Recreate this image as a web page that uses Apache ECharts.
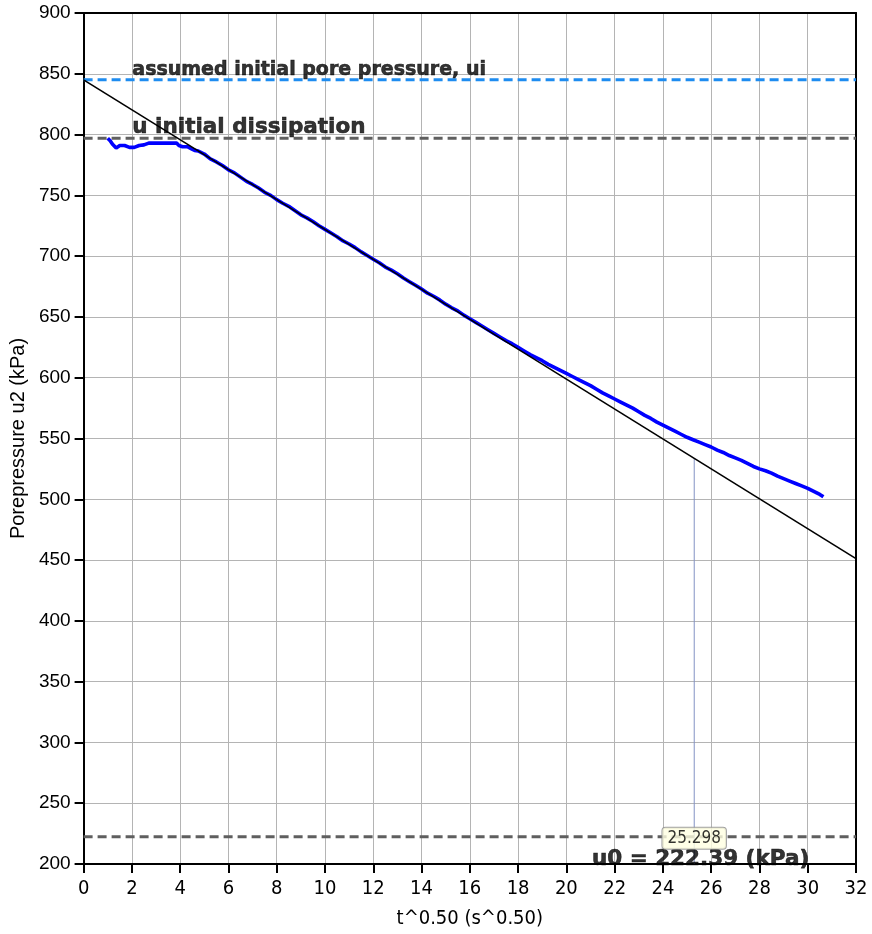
<!DOCTYPE html>
<html>
<head>
<meta charset="utf-8">
<script src="https://cdn.jsdelivr.net/npm/echarts@6/dist/echarts.min.js"></script>
<style>html,body{margin:0;padding:0;background:#fff;}#c{width:872px;height:934px;}</style>
</head>
<body>
<div id="c"></div>
<script>
// ---- data ----
var xAxisName = 't^0.50 (s^0.50)';
var yAxisName = 'Porepressure u2 (kPa)';
var xMin = 0, xMax = 32, xStep = 2;
var yMin = 200, yMax = 900, yStep = 50;

// measured porepressure vs sqrt(t)
var curveX = [1.0,1.1,1.2,1.35,1.5,1.7,1.9,2.1,2.3,2.5,2.7,3.0,3.3,3.6,3.85,3.95,4.1,4.3,4.45,4.6,
  4.75,5.0,5.25,5.5,5.75,6.0,6.25,6.5,6.75,7.0,7.25,7.5,7.75,8.0,8.25,8.5,8.75,9.0,9.25,9.5,9.75,
  10.0,10.25,10.5,10.75,11.0,11.25,11.5,11.75,12.0,12.25,12.5,12.75,13.0,13.25,13.5,13.75,14.0,14.25,14.5,14.75,
  15.0,15.25,15.5,15.75,16.0,16.25,16.5,16.75,17.0,17.25,17.5,17.75,18.0,18.25,18.5,18.75,19.0,19.25,19.5,19.75,
  20.0,20.25,20.5,20.75,21.0,21.25,21.5,21.75,22.0,22.25,22.5,22.75,23.0,23.25,23.5,23.75,24.0,24.25,24.5,24.75,
  25.0,25.25,25.5,25.75,26.0,26.25,26.5,26.75,27.0,27.25,27.5,27.75,28.0,28.25,28.5,28.75,29.0,29.25,29.5,29.75,
  30.0,30.25,30.5,30.65];
var curveY = [797,795,792,789,791,791,789.5,789.5,791,791.5,793,793,793,793,793,791,790,790,788.5,787,
  786.5,784,780,777.5,774.5,771,768.5,765,761.5,759,756,752.5,750,746.5,743.5,741,737.5,734,731.5,728.5,725,
  722,719,716,712.5,710,707,703.5,700.5,697.5,694.5,691,688.5,685.5,682,679,676,673,669.5,667,664,
  660.5,657.5,655,651.5,648.5,645.5,642.5,639.5,636.5,633.5,630.5,628,625,622,619,616.5,614,611,608.5,606,
  603.5,601,598.5,596,593.5,590.5,587.5,585,582.5,580,577.5,575,572,569,566.5,563.5,561,558.5,556,553.5,
  551,549,547,545,543,540.5,538.5,536,534,532,529.5,527,525,523.5,521.5,519,517,515,513,511,
  509,506.5,504,502];

// fitted straight line
var fitX = [0, 32];
var fitY = [845, 451.2];

// reference levels
var uiLevel = 845;            // assumed initial pore pressure
var uDissLevel = 797;         // u initial dissipation
var u0Level = 222.39;         // u0
var tCross = 25.298;          // intersection time
var tCrossTop = 533.8;        // fitted line value at tCross

var uiText = 'assumed initial pore pressure, ui';
var uDissText = 'u initial dissipation';
var u0Text = 'u0 = 222.39 (kPa)';
var tCrossText = '25.298';

// ---- build ----
function pairs(xs, ys){ var o=[]; for (var i=0;i<xs.length;i++) o.push([xs[i], ys[i]]); return o; }
var bold = "'DejaVu Sans', Verdana, sans-serif";
var cond = "'DejaVu Sans Condensed', 'DejaVu Sans', sans-serif";
var arial = "'Liberation Sans', Arial, sans-serif";
function boldLabel(text, size, vAlign){
  return {show: true, formatter: text, position: [0, 0], align: 'left', verticalAlign: vAlign,
    fontFamily: bold, fontWeight: 'bold', fontSize: size, color: '#000',
    textBorderColor: '#000', textBorderWidth: 0.6};
}

var chart = echarts.init(document.getElementById('c'), null, {renderer:'canvas'});
chart.setOption({
  animation: false,
  backgroundColor: '#fff',
  grid: {left: 81, right: 16, top: 13, bottom: 68, containLabel: false},
  xAxis: [{
    type: 'value', min: xMin, max: xMax, interval: xStep,
    name: xAxisName, nameLocation: 'middle', nameGap: 45,
    nameTextStyle: {fontFamily: cond, fontSize: 20, color: '#000'},
    axisLine: {show: true, onZero: false, lineStyle: {color: '#000', width: 2}},
    axisTick: {show: true, inside: false, length: 9, lineStyle: {color: '#000', width: 2}},
    axisLabel: {fontFamily: cond, fontSize: 20, color: '#000', margin: 15},
    splitLine: {show: true, lineStyle: {color: '#b4b4b4', width: 1}}
  }, {
    type: 'value', min: xMin, max: xMax, position: 'top',
    axisLine: {show: true, onZero: false, lineStyle: {color: '#000', width: 2}},
    axisTick: {show: false}, axisLabel: {show: false}, splitLine: {show: false}
  }],
  yAxis: [{
    type: 'value', min: yMin, max: yMax, interval: yStep,
    name: yAxisName, nameLocation: 'middle', nameGap: 52,
    nameTextStyle: {fontFamily: arial, fontSize: 20, color: '#000'},
    axisLine: {show: true, onZero: false, lineStyle: {color: '#000', width: 2}},
    axisTick: {show: true, inside: false, length: 9, lineStyle: {color: '#000', width: 2}},
    axisLabel: {fontFamily: arial, fontSize: 19, color: '#000', margin: 13},
    splitLine: {show: true, lineStyle: {color: '#b4b4b4', width: 1}}
  }, {
    type: 'value', min: yMin, max: yMax, position: 'right',
    axisLine: {show: true, onZero: false, lineStyle: {color: '#000', width: 2}},
    axisTick: {show: false}, axisLabel: {show: false}, splitLine: {show: false}
  }],
  series: [
    {
      type: 'line', name: 'ui', silent: true, symbol: 'none',
      data: [[xMin, uiLevel], [xMax, uiLevel]],
      lineStyle: {color: '#1e8cf0', width: 3, type: [9, 5]}, z: 3
    },
    {
      type: 'line', name: 'udiss', silent: true, symbol: 'none',
      data: [[xMin, uDissLevel], [xMax, uDissLevel]],
      lineStyle: {color: '#5f5f5f', width: 3, type: [9, 5]}, z: 3
    },
    {
      type: 'line', name: 'u0', silent: true, symbol: 'none',
      data: [[xMin, u0Level], [xMax, u0Level]],
      lineStyle: {color: '#5f5f5f', width: 3, type: [9, 5]}, z: 3
    },
    {
      type: 'line', name: 'tcross', silent: true, symbol: 'none',
      data: [[tCross, yMin], [tCross, tCrossTop]],
      lineStyle: {color: '#8392c4', width: 1}, z: 3
    },
    {
      type: 'line', name: 'measured', silent: true, symbol: 'none',
      data: pairs(curveX, curveY),
      lineStyle: {color: '#0000ff', width: 3.6}, z: 4
    },
    {
      type: 'line', name: 'fit', silent: true, symbol: 'none',
      data: pairs(fitX, fitY),
      lineStyle: {color: '#000', width: 1.6}, z: 5
    },
    {
      type: 'scatter', name: 'labels', silent: true, symbolSize: 0.1,
      itemStyle: {color: 'transparent'}, z: 10,
      data: [
        {value: [2.02, uiLevel], label: boldLabel(uiText, 19, 'bottom')},
        {value: [2.02, uDissLevel], label: boldLabel(uDissText, 21.5, 'bottom')},
        {value: [21.06, 204], label: boldLabel(u0Text, 21.5, 'middle')},
        {value: [tCross, 221.2], label: {show: true, formatter: tCrossText, position: [0, 0], align: 'center', verticalAlign: 'middle', fontFamily: cond, fontSize: 17, color: '#000', backgroundColor: '#ffffe1', borderColor: '#8c8c8c', borderWidth: 1, borderRadius: 3, padding: [2, 5, 1, 5], lineHeight: 18}}
      ]
    }
  ]
});
</script>
</body>
</html>
